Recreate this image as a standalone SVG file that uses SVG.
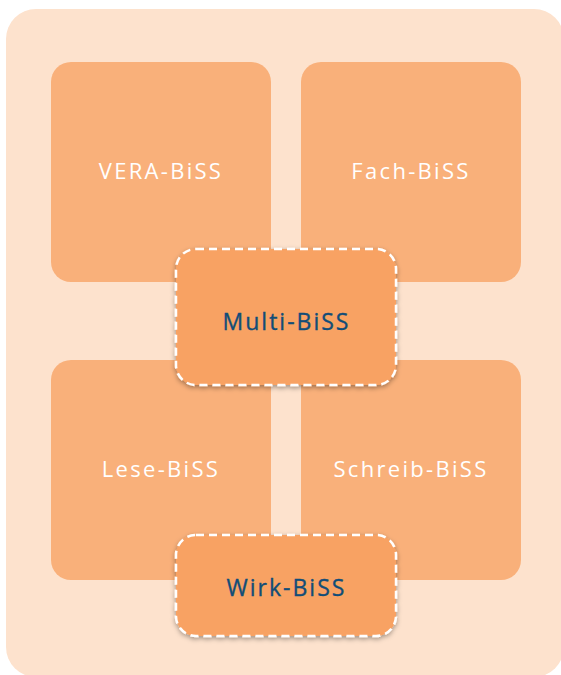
<svg xmlns="http://www.w3.org/2000/svg" width="561" height="675" viewBox="0 0 561 675">
<defs>
<style>
.bg{fill:#FDE2CD}
.box{fill:#F9B07A}
.core{fill:#F8A263;stroke:#FFFFFF;stroke-width:2.5;stroke-dasharray:8,5}
.lt{font-family:"Open Sans","DejaVu Sans",sans-serif;font-size:22px;letter-spacing:2.3px;fill:#FFFFFF;text-anchor:middle}
.dt{font-family:"Open Sans","DejaVu Sans",sans-serif;font-size:23px;letter-spacing:2px;fill:#114D78;text-anchor:middle;stroke:#114D78;stroke-width:0.35}
</style>
<filter id="sh" x="-10%" y="-10%" width="120%" height="130%">
<feDropShadow dx="0" dy="2" stdDeviation="2.5" flood-color="#000000" flood-opacity="0.35"/>
</filter>
</defs>
<rect class="bg" x="6" y="9" width="558" height="668" rx="30"/>
<g id="vera"><rect class="box" x="51" y="62" width="220" height="220" rx="20"/><text class="lt" x="161" y="179">VERA-BiSS</text></g>
<g id="fach"><rect class="box" x="301" y="62" width="220" height="220" rx="20"/><text class="lt" x="411" y="179">Fach-BiSS</text></g>
<g id="lese"><rect class="box" x="51" y="360" width="220" height="220" rx="20"/><text class="lt" x="161" y="477">Lese-BiSS</text></g>
<g id="schreib"><rect class="box" x="301" y="360" width="220" height="220" rx="20"/><text class="lt" x="411" y="477">Schreib-BiSS</text></g>
<g id="multi"><rect class="core" filter="url(#sh)" x="176" y="249" width="220" height="136" rx="20"/><text class="dt" x="286.5" y="330">Multi-BiSS</text></g>
<g id="wirk"><rect class="core" filter="url(#sh)" x="176" y="535" width="220" height="101" rx="20"/><text class="dt" x="286.5" y="596">Wirk-BiSS</text></g>
<g id="connectors"></g>
</svg>
